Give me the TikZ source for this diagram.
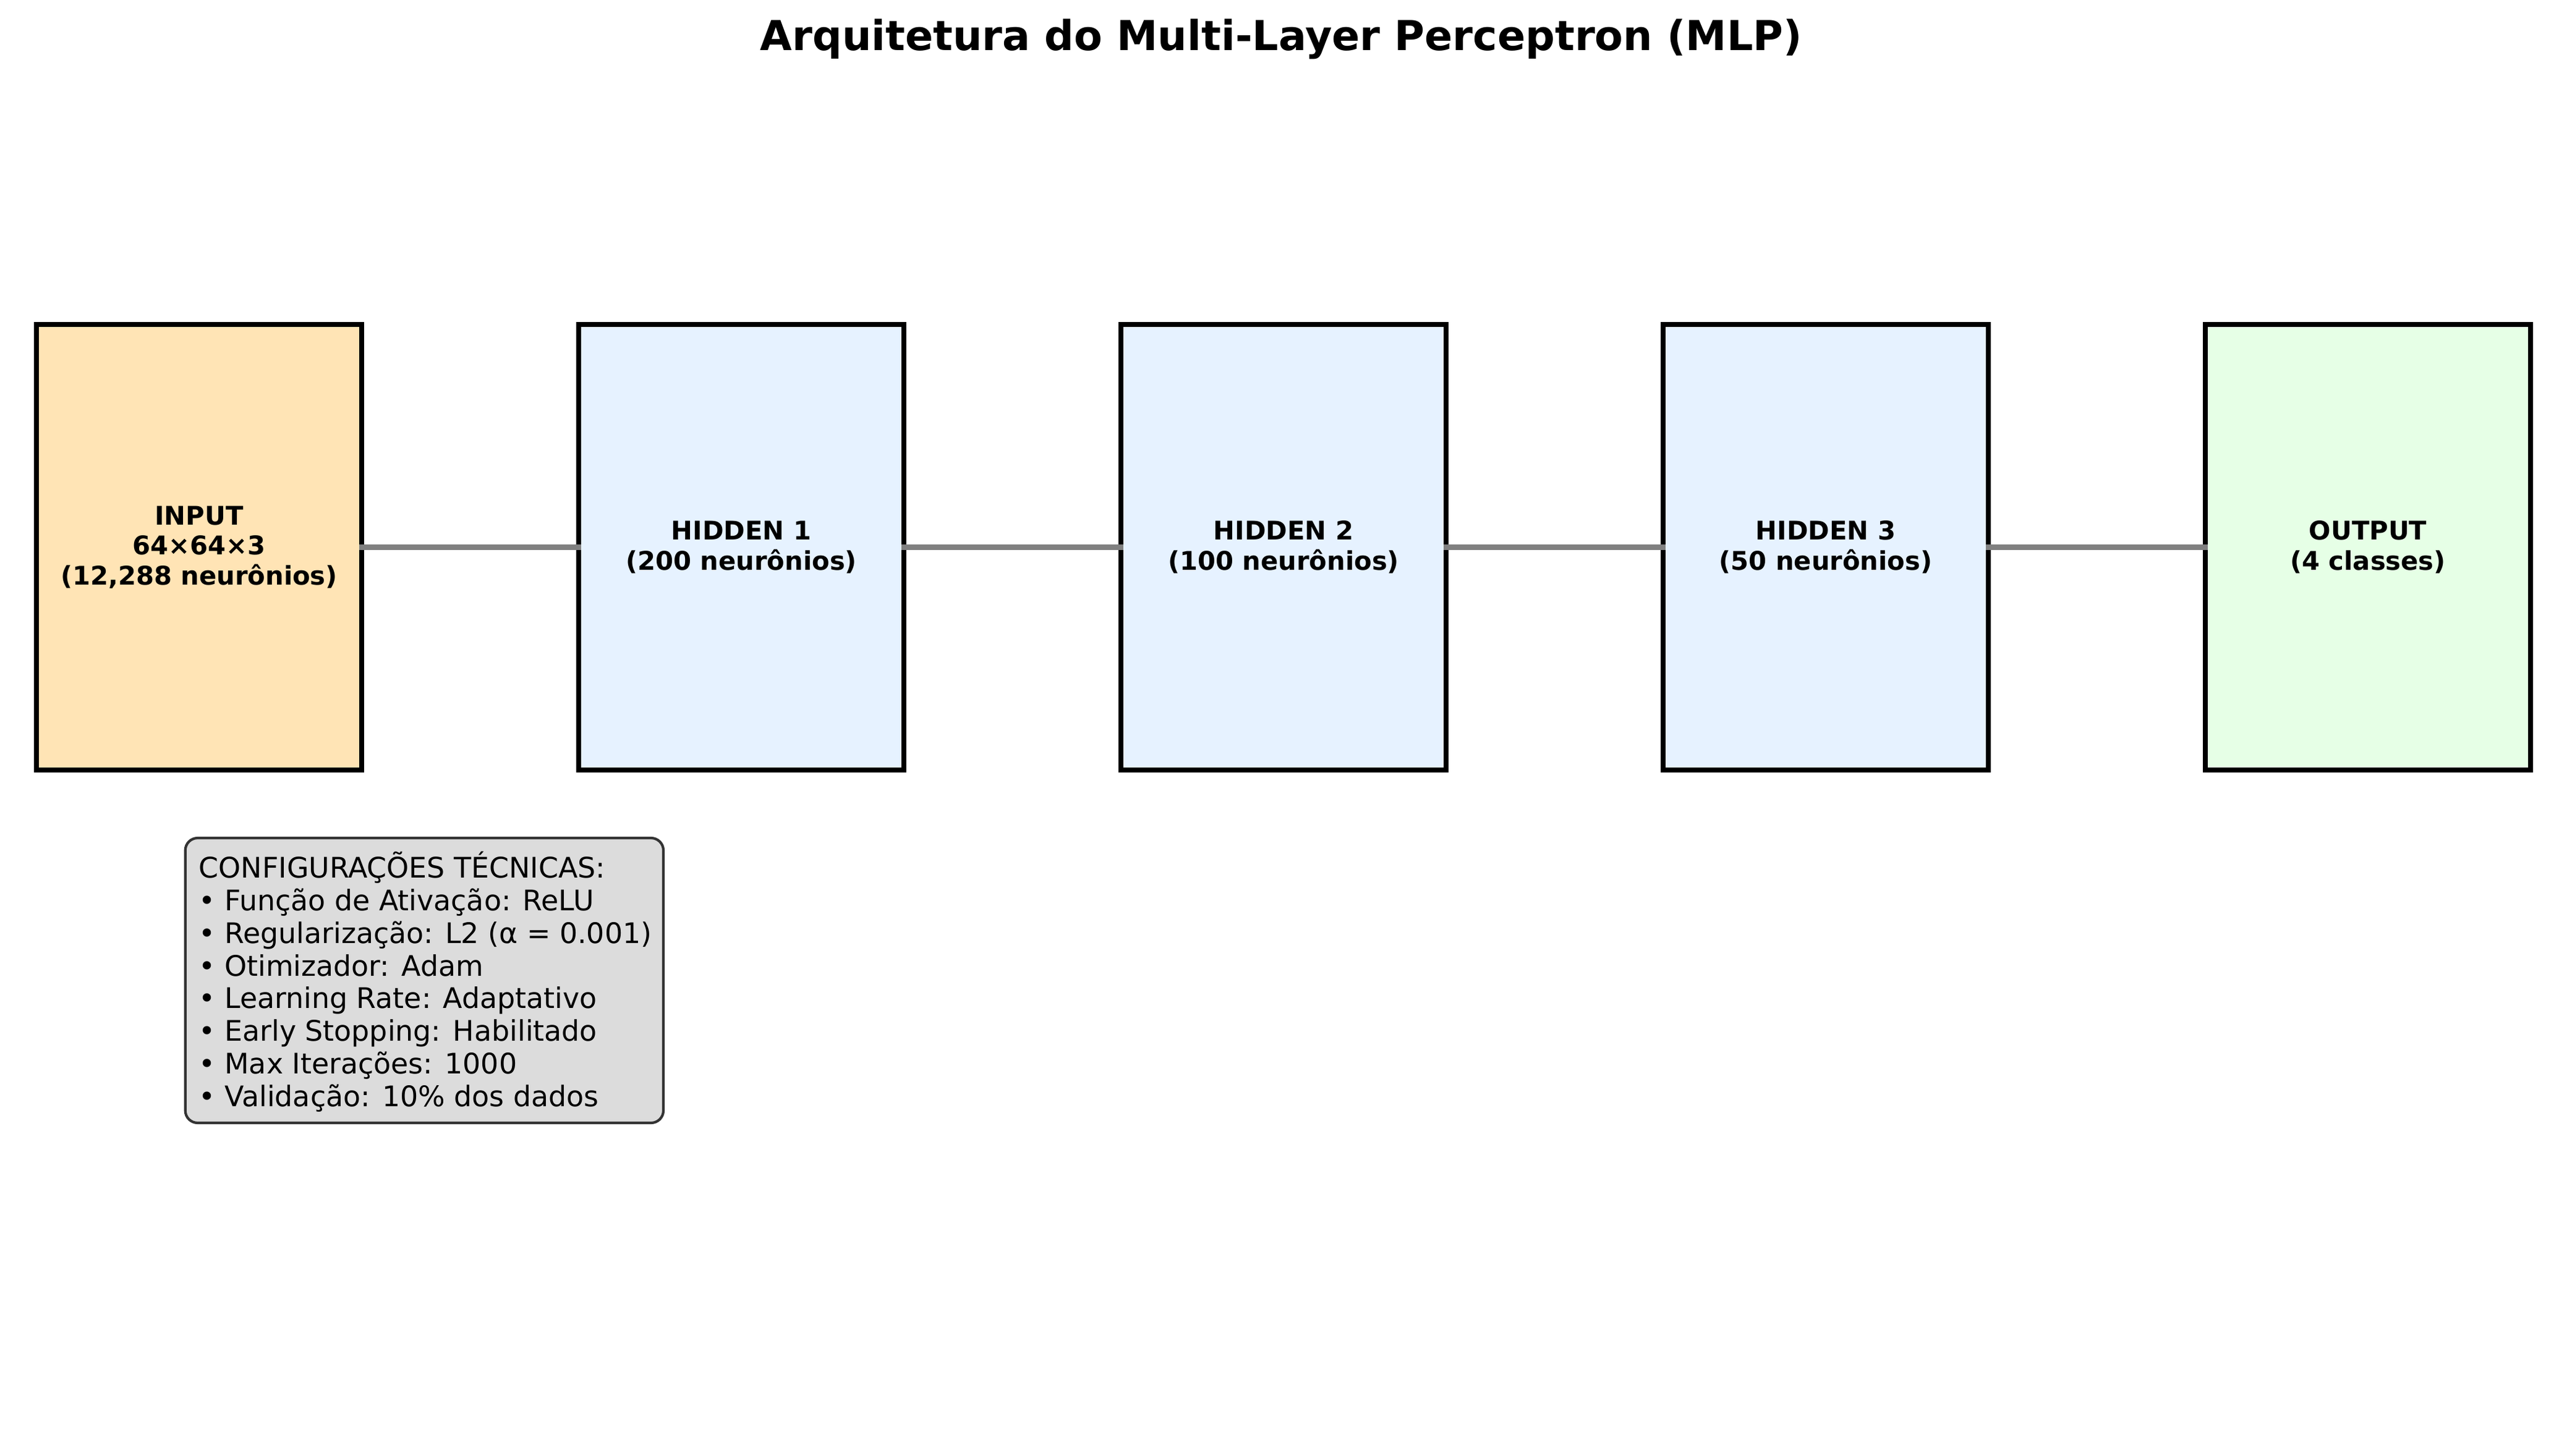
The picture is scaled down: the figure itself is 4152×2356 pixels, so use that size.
\documentclass[tikz,border=0pt]{standalone}
\usepackage{fontspec}
\setmainfont{DejaVu Sans}
\definecolor{inputfill}{HTML}{FFE4B5}
\definecolor{hiddenfill}{HTML}{E6F2FF}
\definecolor{outputfill}{HTML}{E6FFE6}
\definecolor{cfgfill}{HTML}{DCDCDC}
\definecolor{cfgedge}{HTML}{333333}
\definecolor{linkgray}{HTML}{808080}
\tikzset{
  layerbox/.style={draw=black, line width=2pt, rectangle, inner sep=0pt, outer sep=0pt,
    minimum width=126.24pt, minimum height=173.04pt, align=center,
    font=\bfseries\fontsize{10}{11.69}\selectfont},
  link/.style={draw=linkgray, line width=2pt, line cap=rect},
  cfgbox/.style={draw=cfgedge, fill=cfgfill, line width=1pt, rounded corners=4.8pt,
    rectangle, inner sep=0pt, outer sep=0pt, minimum width=185.6pt, minimum height=110.64pt},
  cfgtext/.style={inner sep=0pt, align=left, font=\fontsize{11}{12.67}\selectfont},
  titletext/.style={inner sep=0pt, font=\bfseries\fontsize{16}{19}\selectfont}
}
\begin{document}
\begin{tikzpicture}[x=0.24pt, y=-0.24pt]
\useasboundingbox (0,0) rectangle (4152,2356);
\node[titletext, anchor=base] (title) at (2072.5,81.7) {Arquitetura do Multi-Layer Perceptron (MLP)};
\node[layerbox, fill=inputfill] (inp) at (322,885.5) {INPUT\\64×64×3\\(12,288 neurônios)};
\node[layerbox, fill=hiddenfill] (h1) at (1199,885.5) {HIDDEN 1\\(200 neurônios)};
\node[layerbox, fill=hiddenfill] (h2) at (2076,885.5) {HIDDEN 2\\(100 neurônios)};
\node[layerbox, fill=hiddenfill] (h3) at (2953,885.5) {HIDDEN 3\\(50 neurônios)};
\node[layerbox, fill=outputfill] (out) at (3830,885.5) {OUTPUT\\(4 classes)};
\draw[link] (inp.east) -- (h1.west);
\draw[link] (h1.east) -- (h2.west);
\draw[link] (h2.east) -- (h3.west);
\draw[link] (h3.east) -- (out.west);
\node[cfgbox, anchor=north west] (cfg) at (299.7,1356) {};
\node[cfgtext, anchor=base west] (cfgtxt) at (321,1790.3) {CONFIGURAÇÕES TÉCNICAS:\\
• Função de Ativação: ReLU\\
• Regularização: L2 (α = 0.001)\\
• Otimizador: Adam\\
• Learning Rate: Adaptativo\\
• Early Stopping: Habilitado\\
• Max Iterações: 1000\\
• Validação: 10\% dos dados};
\end{tikzpicture}
\end{document}
